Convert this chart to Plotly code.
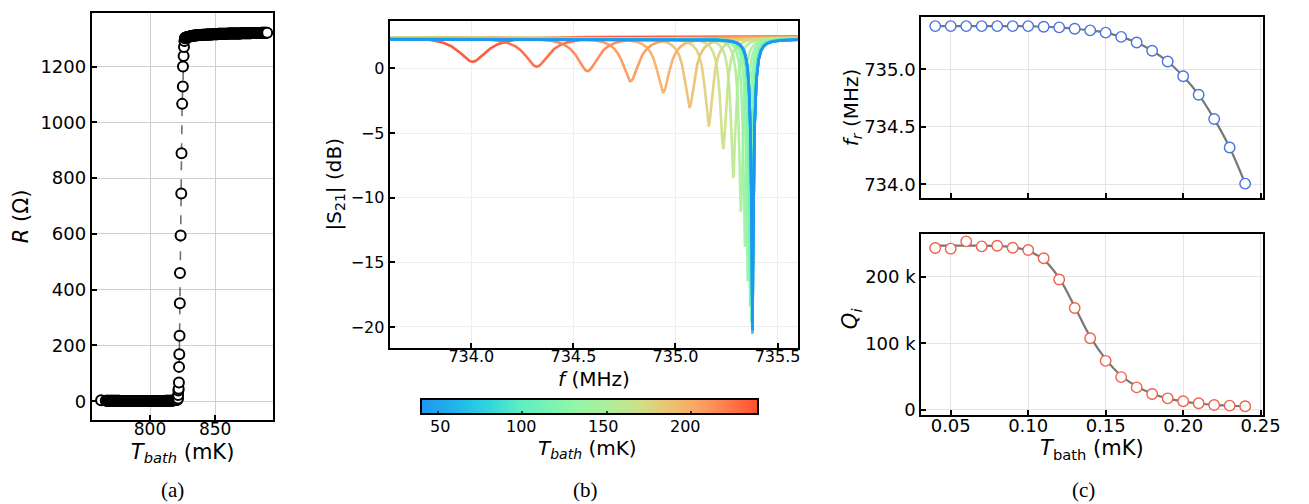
import numpy as np
import plotly.graph_objects as go
from plotly.colors import sample_colorscale

# ---------------- data: panel (a) ----------------
T_low = [762.4,
         766.0, 766.5, 767.0, 767.5, 768.0, 768.5, 769.0, 769.5, 770.0, 770.5, 771.0, 771.5, 772.0, 772.5, 773.0, 773.5,
         774.0, 774.5, 775.0, 775.5, 776.0, 776.5, 777.0, 777.5, 778.0, 778.5, 779.0, 779.5, 780.0, 780.5, 781.0, 781.5,
         782.0, 782.5, 783.0, 783.5, 784.0, 784.5, 785.0, 785.5, 786.0, 786.5, 787.0, 787.5, 788.0, 788.5, 789.0, 789.5,
         790.0, 790.5, 791.0, 791.5, 792.0, 792.5, 793.0, 793.5, 794.0, 794.5, 795.0, 795.5, 796.0, 796.5, 797.0, 797.5,
         798.0, 798.5, 799.0, 799.5, 800.0, 800.5, 801.0, 801.5, 802.0, 802.5, 803.0, 803.5, 804.0, 804.5, 805.0, 805.5,
         806.0, 806.5, 807.0, 807.5, 808.0, 808.5, 809.0, 809.5, 810.0, 810.5, 811.0, 811.5, 812.0, 812.5, 813.0, 813.5,
         814.0, 814.5, 815.0, 815.5, 816.0, 816.5, 817.0, 817.5, 818.0, 818.5, 819.0, 819.5, 820.0, 820.5, 821.0]
R_low = [3,
         2, 2, 2, 2, 2, 2, 2, 2, 2, 2, 2, 2, 2, 2, 2, 2,
         2, 2, 2, 2, 2, 2, 1, 1, 1, 1, 1, 1, 1, 1, 1, 1,
         1, 1, 1, 1, 1, 1, 1, 1, 1, 1, 1, 1, 1, 1, 1, 1,
         1, 1, 1, 1, 1, 1, 1, 1, 1, 1, 1, 1, 1, 1, 1, 1,
         1, 1, 1, 1, 1, 1, 1, 1, 1, 1, 1, 1, 1, 1, 1, 1,
         1, 1, 1, 1, 1, 1, 1, 1, 1, 1, 1, 1, 2, 2, 2, 2,
         2, 2, 2, 2, 2, 2, 2, 2, 3, 3, 3, 4, 4, 5, 5]
T_tr = [821.5, 821.6, 821.8, 822.0, 822.2, 822.3, 822.5, 822.7, 822.9, 823.0,
        823.5, 824.0, 824.2, 824.7, 825.2, 825.3, 825.8, 826.1, 826.4, 826.8]
R_tr = [10, 22, 38, 45, 67, 123, 168, 235, 351, 460,
        594, 745, 889, 1066, 1128, 1200, 1238, 1270, 1291, 1301]
T_plat = [827.0, 827.5, 828.0, 828.5, 829.0, 829.5, 830.0, 830.5, 831.0, 831.5, 832.0, 832.5, 833.0, 833.5, 834.0, 834.5,
          835.0, 835.5, 836.0, 836.5, 837.0, 837.5, 838.0, 838.5, 839.0, 839.5, 840.0, 840.5, 841.0, 841.5, 842.0, 842.5,
          843.0, 843.5, 844.0, 844.5, 845.0, 845.5, 846.0, 846.5, 847.0, 847.5, 848.0, 848.5, 849.0, 849.5, 850.0, 850.5,
          851.0, 851.5, 852.0, 852.5, 853.0, 853.5, 854.0, 854.5, 855.0, 855.5, 856.0, 856.5, 857.0, 857.5, 858.0, 858.5,
          859.0, 859.5, 860.0, 860.5, 861.0, 861.5, 862.0, 862.5, 863.0, 863.5, 864.0, 864.5, 865.0, 865.5, 866.0, 866.5,
          867.0, 867.5, 868.0, 868.5, 869.0, 869.5, 870.0, 870.5, 871.0, 871.5, 872.0, 872.5, 873.0, 873.5, 874.0, 874.5,
          875.0, 875.5, 876.0, 876.5, 877.0, 877.5, 878.0, 878.5, 879.0, 879.5, 880.0, 880.5, 881.0, 881.5, 882.0, 882.5,
          883.0, 883.5, 884.0, 884.5, 885.0, 885.5, 886.0, 886.5, 887.0, 887.5, 888.0, 888.5, 889.0, 889.5, 890.0]
R_plat = [1303, 1304, 1305, 1305, 1306, 1307, 1307, 1308, 1308, 1309, 1309, 1310, 1310, 1310, 1311, 1311,
          1311, 1312, 1312, 1312, 1312, 1313, 1313, 1313, 1313, 1313, 1314, 1314, 1314, 1314, 1314, 1314,
          1315, 1315, 1315, 1315, 1315, 1315, 1315, 1315, 1315, 1315, 1316, 1316, 1316, 1316, 1316, 1316,
          1316, 1316, 1316, 1317, 1317, 1317, 1317, 1317, 1317, 1317, 1317, 1317, 1317, 1317, 1317, 1317,
          1317, 1317, 1318, 1318, 1318, 1318, 1318, 1318, 1318, 1318, 1318, 1318, 1318, 1318, 1318, 1318,
          1318, 1318, 1318, 1318, 1318, 1318, 1319, 1319, 1319, 1319, 1319, 1319, 1319, 1319, 1319, 1319,
          1319, 1319, 1319, 1319, 1319, 1319, 1320, 1320, 1320, 1320, 1320, 1320, 1320, 1320, 1320, 1320,
          1320, 1320, 1320, 1320, 1320, 1321, 1321, 1321, 1321, 1321, 1321, 1321, 1321, 1321, 1321]

# ---------------- data: panel (c) ----------------
T_bath_K = [0.04, 0.05, 0.06, 0.07, 0.08, 0.09, 0.10, 0.11, 0.12, 0.13, 0.14,
            0.15, 0.16, 0.17, 0.18, 0.19, 0.20, 0.21, 0.22, 0.23, 0.24]
fr_MHz = [735.377, 735.377, 735.377, 735.377, 735.377, 735.377, 735.377, 735.371, 735.366, 735.354, 735.340,
          735.320, 735.283, 735.234, 735.163, 735.069, 734.940, 734.780, 734.569, 734.320, 734.006]
Qi = [243500, 242500, 253500, 246000, 247000, 244000, 240500, 228000, 196000, 153000, 107500,
      73500, 49000, 33500, 23500, 17000, 12500, 9500, 7000, 6000, 5000]
Qi_fit = [247000, 247000, 247000, 247000, 246500, 245000, 239000, 226000, 198000, 155000, 110000,
          76000, 51000, 35000, 24000, 17000, 12500, 9200, 7000, 5800, 5000]

# ---------------- data: panel (b) ----------------
T_bath_mK = [40, 50, 60, 70, 80, 90, 100, 110, 120, 130, 140,
             150, 160, 170, 180, 190, 200, 210, 220, 230, 240]
baseline_dB = [2.25, 2.25, 2.26, 2.27, 2.28, 2.29, 2.30, 2.31, 2.32, 2.33, 2.34,
               2.35, 2.36, 2.37, 2.38, 2.39, 2.40, 2.41, 2.42, 2.43, 2.47]
Qc_coupling = 19800
cbar_range = [40, 240]
cbar_ticks = [50, 100, 150, 200]

FONT = "DejaVu Sans"
cscale = [[0.0, '#2196f0'], [0.1, '#20b4ea'], [0.2, '#30d6dc'], [0.3, '#5eefc2'],
          [0.45, '#90f6a8'], [0.55, '#abef9a'], [0.65, '#cde088'], [0.72, '#e8c878'],
          [0.8, '#f8ad66'], [0.9, '#ff8050'], [1.0, '#ff4e2e']]

W, H = 1309, 504
CB_LEFT, CB_LEN, CB_TOP = 419, 337, 395

fig = go.Figure()

# panel (a)
fig.add_trace(go.Scatter(
    x=T_low + T_tr + T_plat, y=R_low + R_tr + R_plat, mode='lines+markers',
    line=dict(color='#707070', width=1.6, dash='dash'),
    marker=dict(symbol='circle', size=10, color='white', line=dict(color='black', width=2)),
    xaxis='x', yaxis='y', showlegend=False))

# panel (b)
f = np.linspace(733.6, 735.62, 4000)
for i in range(len(T_bath_mK) - 1, -1, -1):
    Q = 1.0 / (1.0 / Qi[i] + 1.0 / Qc_coupling)
    s21 = 1 - (Q / Qc_coupling) / (1 + 2j * Q * (f - fr_MHz[i]) / fr_MHz[i])
    db = 20 * np.log10(np.abs(s21)) + baseline_dB[i]
    col = sample_colorscale(cscale, [(T_bath_mK[i] - cbar_range[0]) / (cbar_range[1] - cbar_range[0])])[0]
    fig.add_trace(go.Scatter(x=f, y=db, mode='lines', line=dict(color=col, width=2.6),
                             opacity=0.9, xaxis='x2', yaxis='y2', showlegend=False, hoverinfo='skip'))

fig.add_trace(go.Scatter(
    x=[None], y=[None], mode='markers', xaxis='x2', yaxis='y2', showlegend=False,
    marker=dict(color=[cbar_range[0]], colorscale=cscale, cmin=cbar_range[0], cmax=cbar_range[1],
                showscale=True,
                colorbar=dict(orientation='h', x=CB_LEFT / W, xanchor='left', y=1 - CB_TOP / H,
                              yanchor='top', lenmode='pixels', len=CB_LEN, thickness=15,
                              xpad=0, ypad=0, outlinewidth=2, outlinecolor='black',
                              ticks='inside', ticklen=4, tickwidth=1.5, tickcolor='#333',
                              tickvals=cbar_ticks, showticklabels=False))))

# colorbar tick labels and title as text placed under the bar
for v in cbar_ticks:
    xp = (CB_LEFT + 2 + (v - cbar_range[0]) / (cbar_range[1] - cbar_range[0]) * (CB_LEN - 4)) / W
    fig.add_annotation(text=str(v), x=xp, y=1 - 423 / H, xref='paper', yref='paper', showarrow=False,
                       xanchor='center', yanchor='middle', font=dict(family=FONT, size=16, color='black'))
fig.add_annotation(text='<i>T<sub>bath</sub></i> (mK)', x=(CB_LEFT + CB_LEN / 2) / W, y=1 - 445 / H,
                   xref='paper', yref='paper', showarrow=False, xanchor='center', yanchor='middle',
                   font=dict(family=FONT, size=20, color='black'))

# panel (c) top
fig.add_trace(go.Scatter(x=T_bath_K, y=fr_MHz, mode='lines', line=dict(color='#777777', width=2.2, shape='spline'),
                         xaxis='x3', yaxis='y3', showlegend=False))
fig.add_trace(go.Scatter(x=T_bath_K, y=fr_MHz, mode='markers',
                         marker=dict(size=10.5, color='white', line=dict(color='#4a72e0', width=1.4)),
                         xaxis='x3', yaxis='y3', showlegend=False))
# panel (c) bottom
fig.add_trace(go.Scatter(x=T_bath_K, y=Qi_fit, mode='lines', line=dict(color='#777777', width=2.2, shape='spline'),
                         xaxis='x4', yaxis='y4', showlegend=False))
fig.add_trace(go.Scatter(x=T_bath_K, y=Qi, mode='markers',
                         marker=dict(size=10.5, color='white', line=dict(color='#f0604c', width=1.4)),
                         xaxis='x4', yaxis='y4', showlegend=False))


def ax(domain, rng, anchor, grid='#dddddd', size=18, **kw):
    d = dict(domain=domain, range=rng, anchor=anchor, showline=True, linecolor='black', linewidth=2,
             mirror=True, ticks='inside', ticklen=5, tickwidth=1.5, tickcolor='black',
             showgrid=True, gridcolor=grid, gridwidth=1, zeroline=False,
             tickfont=dict(family=FONT, size=size, color='black'))
    d.update(kw)
    return d


fig.update_layout(
    width=W, height=H, margin=dict(l=0, r=0, t=0, b=0),
    paper_bgcolor='white', plot_bgcolor='white',
    font=dict(family=FONT, color='black'),
    xaxis=ax([85 / W, 269 / W], [755.3, 894.7], 'y', grid='#cfcfcf', size=17, tickvals=[800, 850],
             title=dict(text='<i>T<sub>bath</sub></i> (mK)', font=dict(size=21), standoff=6)),
    yaxis=ax([1 - 416 / H, 1 - 5 / H], [-67, 1392], 'x', grid='#cfcfcf',
             tickvals=[0, 200, 400, 600, 800, 1000, 1200],
             title=dict(text='<i>R</i> (Ω)', font=dict(size=21), standoff=6)),
    xaxis2=ax([387 / W, 801 / W], [733.6, 735.6], 'y2', grid='#eeeeee', size=16,
              tickvals=[734.0, 734.5, 735.0, 735.5], tickformat='.1f'),
    yaxis2=ax([1 - 343 / H, 1 - 13 / H], [-21.6, 3.68], 'x2', grid='#eeeeee', size=16,
              tickvals=[0, -5, -10, -15, -20],
              title=dict(text='|S<sub>21</sub>| (dB)', font=dict(size=20), standoff=4)),
    xaxis3=ax([926 / W, 1272 / W], [0.031, 0.2512], 'y3', grid='#e4e4e4',
              tickvals=[0.05, 0.10, 0.15, 0.20, 0.25], showticklabels=False),
    yaxis3=ax([1 - 192 / H, 1 - 9 / H], [733.88, 735.457], 'x3', grid='#e4e4e4',
              tickvals=[734.0, 734.5, 735.0], tickformat='.1f'),
    xaxis4=ax([926 / W, 1272 / W], [0.031, 0.2512], 'y4', grid='#e4e4e4',
              tickvals=[0.05, 0.10, 0.15, 0.20, 0.25], tickformat='.2f',
              title=dict(text='<i>T</i><sub>bath</sub> (mK)', font=dict(size=21), standoff=6)),
    yaxis4=ax([1 - 411 / H, 1 - 228 / H], [-8000, 265000], 'x4', grid='#e4e4e4',
              tickvals=[0, 100000, 200000], ticktext=['0', '100 k', '200 k']),
)

# axis titles placed as text
fig.add_annotation(text='<i>f</i> (MHz)', x=594 / W, y=1 - 375 / H, xref='paper', yref='paper',
                   showarrow=False, xanchor='center', yanchor='middle',
                   font=dict(family=FONT, size=20, color='black'))
fig.add_annotation(text='<i>f<sub>r</sub></i> (MHz)', x=856 / W, y=1 - 100 / H, xref='paper', yref='paper',
                   showarrow=False, textangle=-90, xanchor='center', yanchor='middle',
                   font=dict(family=FONT, size=20, color='black'))
fig.add_annotation(text='<i>Q<sub>i</sub></i>', x=855 / W, y=1 - 313 / H, xref='paper', yref='paper',
                   showarrow=False, textangle=-90, xanchor='center', yanchor='middle',
                   font=dict(family=FONT, size=21, color='black'))

# pull x tick labels closer to the axes (matplotlib-like spacing)
try:
    fig.update_xaxes(ticklabelstandoff=-7)
except Exception:
    pass

for txt, xc in [('(a)', 167), ('(b)', 586), ('(c)', 1091)]:
    fig.add_annotation(text=txt, x=xc / W, y=1 - 487 / H, xref='paper', yref='paper',
                       showarrow=False, xanchor='center', yanchor='middle',
                       font=dict(family='Liberation Serif', size=21, color='black'))

fig.write_html("out.html")
